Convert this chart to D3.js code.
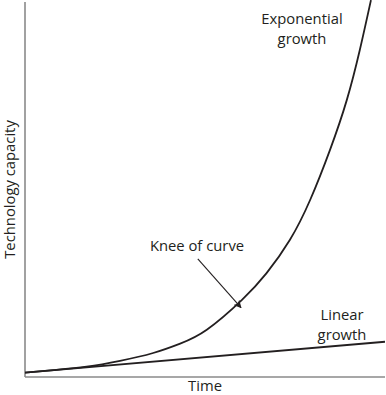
<!DOCTYPE html>
<html>
<head>
<meta charset="utf-8">
<script src="https://cdn.jsdelivr.net/npm/d3@7"></script>
<style>
  body { margin: 0; background: #fff; }
  text { font-family: "Open Sans", sans-serif; fill: #231f20; }
</style>
</head>
<body>
<svg id="chart" width="386" height="395"></svg>
<script>
// time (0-100) and capacity (0-100)
const expTime = [0, 7.9, 17.1, 26.4, 35.6, 43.1, 50.5, 60.2, 67.1, 73.6, 79.2, 84.7, 89.4, 93, 96.1];
const expValue = [1.15, 1.85, 2.75, 4.3, 6.4, 8.9, 12.6, 20.5, 27.7, 36.6, 47.2, 60.5, 73.9, 87.2, 100.5];
const linTime = [0, 100];
const linValue = [1.15, 9.4];

const svg = d3.select('#chart');
const margin = { top: 2, right: 1, bottom: 18, left: 25 };
const width = 386 - margin.left - margin.right;
const height = 395 - margin.top - margin.bottom;

const x = d3.scaleLinear().domain([0, 100]).range([margin.left, margin.left + width]);
const y = d3.scaleLinear().domain([0, 100]).range([margin.top + height, margin.top]);

const g = svg.append('g');

// axes drawn as plain lines (no ticks in the figure)
g.append('line')
  .attr('x1', x(0)).attr('x2', x(0))
  .attr('y1', y(0)).attr('y2', margin.top)
  .attr('stroke', '#8a8a8a').attr('stroke-width', 1.6);
g.append('line')
  .attr('x1', x(0)).attr('x2', x(100))
  .attr('y1', y(0)).attr('y2', y(0))
  .attr('stroke', '#8a8a8a').attr('stroke-width', 1.6);

const line = d3.line()
  .x(d => x(d[0]))
  .y(d => y(d[1]))
  .curve(d3.curveNatural);

svg.append('clipPath').attr('id', 'clip')
  .append('rect')
  .attr('x', margin.left).attr('y', 0)
  .attr('width', width + 2).attr('height', margin.top + height);

g.append('path')
  .datum(d3.zip(expTime, expValue))
  .attr('d', line)
  .attr('clip-path', 'url(#clip)')
  .attr('fill', 'none').attr('stroke', '#231f20').attr('stroke-width', 1.8);

g.append('path')
  .datum(d3.zip(linTime, linValue))
  .attr('d', line)
  .attr('fill', 'none').attr('stroke', '#231f20').attr('stroke-width', 1.8);

// arrow for the knee
svg.append('defs').append('marker')
  .attr('id', 'arrow')
  .attr('viewBox', '0 0 10 10')
  .attr('refX', 9).attr('refY', 5)
  .attr('markerWidth', 8).attr('markerHeight', 8)
  .attr('markerUnits', 'userSpaceOnUse')
  .attr('orient', 'auto')
  .append('path')
  .attr('d', 'M0,0L10,5L0,10L3,5Z')
  .attr('fill', '#231f20');

g.append('line')
  .attr('x1', x(48)).attr('y1', y(31.5))
  .attr('x2', x(60)).attr('y2', y(18.5))
  .attr('stroke', '#231f20').attr('stroke-width', 1.1)
  .attr('marker-end', 'url(#arrow)');

const fs = 14.8;

const label = (tx, ty, lines) => {
  const t = g.append('text')
    .attr('text-anchor', 'middle')
    .attr('font-size', fs);
  lines.forEach((s, i) => {
    t.append('tspan').attr('x', tx).attr('y', ty + i * 20).text(s);
  });
};

label(302, 24, ['Exponential', 'growth']);
label(197, 251, ['Knee of curve']);
label(342, 320, ['Linear', 'growth']);

g.append('text')
  .attr('x', 205).attr('y', 391)
  .attr('text-anchor', 'middle')
  .attr('font-size', fs)
  .text('Time');

g.append('text')
  .attr('transform', `translate(15, ${y(50)}) rotate(-90)`)
  .attr('text-anchor', 'middle')
  .attr('font-size', fs)
  .text('Technology capacity');
</script>
</body>
</html>
